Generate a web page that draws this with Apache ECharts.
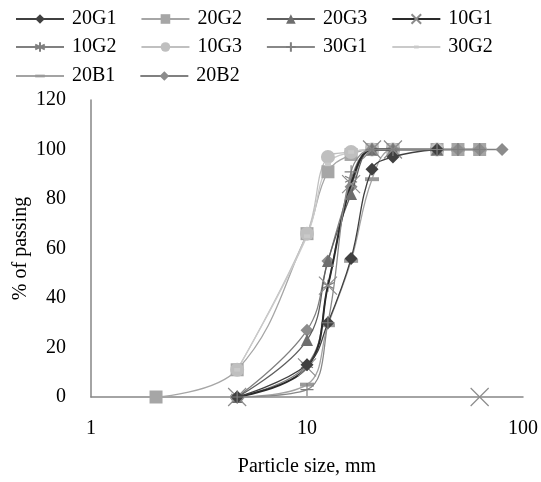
<!DOCTYPE html>
<html>
<head>
<meta charset="utf-8">
<script src="https://cdn.jsdelivr.net/npm/echarts@6/dist/echarts.min.js"></script>
<style>
  html, body { margin: 0; padding: 0; background: #fff; }
  #chart { width: 541px; height: 482px; }
</style>
</head>
<body>
<div id="chart"></div>
<script>
// sieve sizes (mm) and % passing per mix
const sizes = [2, 4.75, 10, 12.5, 16, 20, 25, 40, 50, 63, 80];
const g20_1 = [null, 0, 13, 30, 56, 92, 97, 100, null, null, null];
const g20_2 = [0, 11, 66, 91, 98, 100, 100, 100, 100, 100, null];
const g20_3 = [null, 0, 23, 55, 82, 100, 100, 100, null, null, null];
const g10_1 = [null, 0, 12, 45, 86, 100, 100, null, null, 0, null];
const g10_2 = [null, 0, 13, 45, 88, 100, 100, 100, null, null, null];
const g10_3 = [null, 11, 66, 97, 99, 100, 100, 100, null, null, null];
const g30_1 = [null, 0, 3, 30, 91, 100, 100, 100, 100, 100, null];
const g30_2 = [null, 11, 65, 94, 99, 100, 100, 100, null, null, null];
const b20_1 = [null, 0, 5, 29, 55, 88, 100, 100, 100, 100, null];
const b20_2 = [null, 0, 27, 55, 85, 100, 100, 100, 100, 100, 100];

const FONT = 'Liberation Serif';
const xPath = 'path://M0,0L10,10M10,0L0,10';
const starPath = 'path://M5,0L5,10M0,2.5L10,7.5M0,7.5L10,2.5';
const plusPath = 'path://M5,0L5,10M0,5L10,5';
// thin bars inside a square box (the lone moves set the box)
const dashPath = 'path://M0,0M10,10M0,3.6L10,3.6L10,6.4L0,6.4Z';
const dotPath = 'path://M0,0M10,10M2.5,3.5L7.5,3.5L7.5,6.5L2.5,6.5Z';

const toPairs = arr => sizes.map((x, i) => [x, arr[i] === null ? '-' : arr[i]]);

const mk = (name, arr, lineColor, markColor, symbol, symbolSize, opts = {}) => ({
  name,
  type: 'line',
  smooth: 0.4,
  data: toPairs(arr),
  symbol,
  symbolSize,
  showAllSymbol: true,
  lineStyle: { color: lineColor, width: opts.width || 1.3 },
  itemStyle: {
    color: markColor,
    borderColor: markColor,
    borderWidth: opts.stroke ? 1.2 : 0
  },
  emphasis: { disabled: true },
  z: opts.z || 2
});

const chart = echarts.init(document.getElementById('chart'));

const legendBase = {
  left: 10,
  itemWidth: 48,
  itemHeight: 12,
  itemGap: 24,
  textStyle: { fontFamily: FONT, fontSize: 20, color: '#000', padding: [0, 0, 0, 3] }
};

chart.setOption({
  animation: false,
  legend: [
    Object.assign({ top: 4, data: ['20G1', '20G2', '20G3', '10G1'] }, legendBase),
    Object.assign({ top: 32, data: ['10G2', '10G3', '30G1', '30G2'] }, legendBase),
    Object.assign({ top: 61, data: ['20B1', '20B2'] }, legendBase)
  ],
  grid: { left: 91, right: 18, top: 100, bottom: 82 },
  xAxis: {
    type: 'log',
    logBase: 10,
    min: 1,
    max: 100,
    name: 'Particle size, mm',
    nameLocation: 'middle',
    nameGap: 60,
    nameMoveOverlap: false,
    nameTextStyle: { fontFamily: FONT, fontSize: 20, color: '#000' },
    axisLine: { lineStyle: { color: '#868686', width: 1.5 } },
    axisTick: { show: false },
    splitLine: { show: false },
    axisLabel: { fontFamily: FONT, fontSize: 20, color: '#000', margin: 22 }
  },
  yAxis: {
    type: 'value',
    min: 0,
    max: 120,
    interval: 20,
    name: '% of passing',
    nameLocation: 'middle',
    nameGap: 60,
    nameMoveOverlap: false,
    nameTextStyle: { fontFamily: FONT, fontSize: 20, color: '#000' },
    axisLine: { show: true, lineStyle: { color: '#868686', width: 1.5 } },
    axisTick: { show: false },
    splitLine: { show: false },
    axisLabel: { fontFamily: FONT, fontSize: 20, color: '#000', margin: 25 }
  },
  series: [
    mk('20G1', g20_1, '#404040', '#404040', 'diamond', 13, { z: 4 }),
    mk('20G2', g20_2, '#a6a6a6', '#a6a6a6', 'rect', 13),
    mk('20G3', g20_3, '#5f5f5f', '#6e6e6e', 'triangle', 12, { z: 3 }),
    mk('10G1', g10_1, '#2a2a2a', '#8c8c8c', xPath, 18, { width: 2, stroke: true, z: 3 }),
    mk('10G2', g10_2, '#808080', '#7f7f7f', starPath, 12, { stroke: true }),
    mk('10G3', g10_3, '#c0c0c0', '#bfbfbf', 'circle', 14),
    mk('30G1', g30_1, '#888888', '#7f7f7f', plusPath, 13, { stroke: true, z: 4 }),
    mk('30G2', g30_2, '#cacaca', '#c9c9c9', dotPath, 12),
    mk('20B1', b20_1, '#a3a3a3', '#9a9a9a', dashPath, 14),
    mk('20B2', b20_2, '#808080', '#8c8c8c', 'diamond', 13)
  ]
});
</script>
</body>
</html>
